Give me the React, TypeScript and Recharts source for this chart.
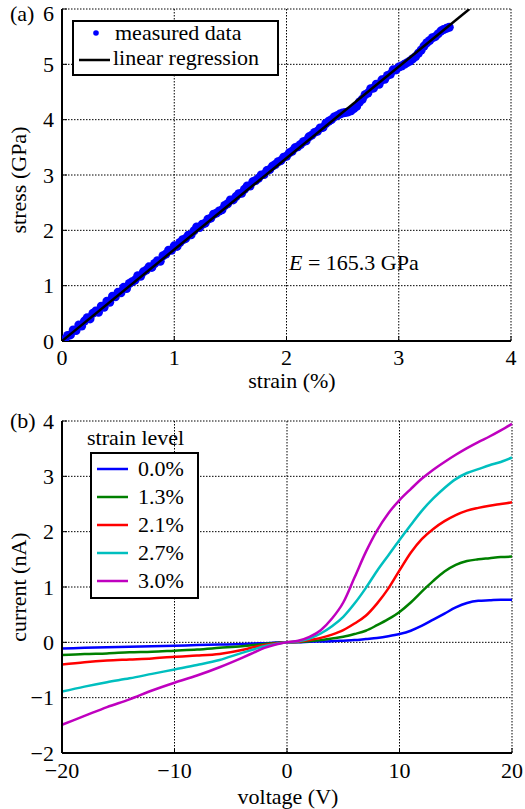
import React from 'react';
import {
  ScatterChart, Scatter, LineChart, Line, XAxis, YAxis, ZAxis, CartesianGrid,
} from 'recharts';

// ---------- panel (a): stress vs strain ----------
const measuredStrain = [
  0, 0.025, 0.05, 0.075, 0.1, 0.125, 0.15, 0.175, 0.2, 0.225,
  0.25, 0.275, 0.3, 0.325, 0.35, 0.375, 0.4, 0.425, 0.45, 0.475,
  0.5, 0.525, 0.55, 0.575, 0.6, 0.625, 0.65, 0.675, 0.7, 0.725,
  0.75, 0.775, 0.8, 0.825, 0.85, 0.875, 0.9, 0.925, 0.95, 0.975,
  1.0, 1.025, 1.05, 1.075, 1.1, 1.125, 1.15, 1.175, 1.2, 1.225,
  1.25, 1.275, 1.3, 1.325, 1.35, 1.375, 1.4, 1.425, 1.45, 1.475,
  1.5, 1.525, 1.55, 1.575, 1.6, 1.625, 1.65, 1.675, 1.7, 1.725,
  1.75, 1.775, 1.8, 1.825, 1.85, 1.875, 1.9, 1.925, 1.95, 1.975,
  2.0, 2.025, 2.05, 2.075, 2.1, 2.125, 2.15, 2.175, 2.2, 2.225,
  2.25, 2.275, 2.3, 2.325, 2.35, 2.375, 2.4, 2.425, 2.45, 2.475,
  2.5, 2.525, 2.55, 2.575, 2.6, 2.625, 2.65, 2.675, 2.7, 2.725,
  2.75, 2.775, 2.8, 2.825, 2.85, 2.875, 2.9, 2.925, 2.95, 2.975,
  3.0, 3.025, 3.05, 3.075, 3.1, 3.125, 3.15, 3.175, 3.2, 3.225,
  3.25, 3.275, 3.3, 3.325, 3.35, 3.375, 3.4, 3.425, 3.45,
];
const measuredStress = [
  0.00, 0.03, 0.10, 0.11, 0.20, 0.19, 0.29, 0.27, 0.36, 0.42,
  0.40, 0.50, 0.54, 0.52, 0.63, 0.61, 0.72, 0.70, 0.81, 0.80,
  0.88, 0.87, 0.97, 0.95, 1.04, 1.07, 1.10, 1.18, 1.17, 1.25,
  1.28, 1.34, 1.33, 1.40, 1.45, 1.44, 1.54, 1.57, 1.64, 1.64,
  1.72, 1.71, 1.78, 1.83, 1.85, 1.91, 1.92, 1.99, 2.06, 2.05,
  2.11, 2.13, 2.20, 2.22, 2.29, 2.31, 2.35, 2.37, 2.45, 2.48,
  2.55, 2.55, 2.61, 2.66, 2.67, 2.74, 2.80, 2.80, 2.88, 2.90,
  2.94, 3.00, 3.01, 3.08, 3.10, 3.16, 3.19, 3.24, 3.26, 3.32,
  3.34, 3.40, 3.43, 3.49, 3.51, 3.55, 3.60, 3.62, 3.69, 3.72,
  3.77, 3.79, 3.85, 3.86, 3.93, 3.97, 4.00, 4.05, 4.07, 4.10,
  4.12, 4.13, 4.14, 4.16, 4.20, 4.24, 4.32, 4.37, 4.45, 4.48,
  4.56, 4.57, 4.64, 4.64, 4.72, 4.73, 4.80, 4.82, 4.90, 4.90,
  4.95, 4.97, 5.00, 5.03, 5.06, 5.10, 5.14, 5.20, 5.26, 5.33,
  5.39, 5.43, 5.48, 5.50, 5.55, 5.60, 5.63, 5.65, 5.67,
];
const regressionStrain = [0, 3.63];
const regressionStress = [0, 6.0];
const strainTicks = [0, 1, 2, 3, 4];
const stressTicks = [0, 1, 2, 3, 4, 5, 6];

// ---------- panel (b): current vs voltage ----------
const voltage = [-20, -18, -16, -14, -12, -10, -8, -6, -4, -3, -2, -1, 0, 1, 2, 3, 4, 5, 6, 7, 8, 9, 10, 11, 12, 13, 14, 15, 16, 17, 18, 19, 20];
const current00 = [-0.11, -0.10, -0.09, -0.08, -0.07, -0.06, -0.05, -0.04, -0.03, -0.02, -0.015, -0.005, 0, 0, 0.01, 0.015, 0.02, 0.03, 0.04, 0.06, 0.08, 0.11, 0.15, 0.21, 0.30, 0.41, 0.52, 0.63, 0.71, 0.75, 0.76, 0.77, 0.77];
const current13 = [-0.23, -0.21, -0.20, -0.18, -0.17, -0.15, -0.13, -0.10, -0.07, -0.05, -0.03, -0.01, 0, 0.005, 0.02, 0.04, 0.07, 0.10, 0.15, 0.21, 0.31, 0.42, 0.55, 0.72, 0.92, 1.11, 1.28, 1.40, 1.47, 1.50, 1.52, 1.54, 1.55];
const current21 = [-0.40, -0.36, -0.33, -0.31, -0.29, -0.26, -0.24, -0.21, -0.14, -0.09, -0.05, -0.02, 0, 0.01, 0.04, 0.08, 0.14, 0.22, 0.34, 0.48, 0.70, 0.97, 1.30, 1.62, 1.87, 2.05, 2.19, 2.30, 2.38, 2.43, 2.47, 2.50, 2.53];
const current27 = [-0.89, -0.80, -0.72, -0.65, -0.57, -0.49, -0.41, -0.32, -0.19, -0.13, -0.07, -0.03, 0, 0.02, 0.07, 0.16, 0.29, 0.46, 0.70, 0.98, 1.29, 1.57, 1.85, 2.12, 2.38, 2.60, 2.79, 2.95, 3.06, 3.13, 3.20, 3.26, 3.34];
const current30 = [-1.49, -1.33, -1.17, -1.03, -0.87, -0.73, -0.60, -0.45, -0.28, -0.19, -0.10, -0.04, 0, 0.03, 0.10, 0.22, 0.43, 0.72, 1.17, 1.63, 2.02, 2.33, 2.57, 2.77, 2.96, 3.12, 3.26, 3.39, 3.51, 3.62, 3.72, 3.83, 3.95];
const strainLevels = ['0.0%', '1.3%', '2.1%', '2.7%', '3.0%'];
const seriesColors = ['#0000ff', '#008000', '#ff0000', '#00bfbf', '#bf00bf'];
const voltageTicks = [-20, -10, 0, 10, 20];
const currentTicks = [-2, -1, 0, 1, 2, 3, 4];

const measured = measuredStrain.map((x, i) => ({ x, y: measuredStress[i] }));
const regression = regressionStrain.map((x, i) => ({ x, y: regressionStress[i] }));
const ivSeries = [current00, current13, current21, current27, current30];
const ivRows = voltage.map((v, i) => {
  const row: Record<string, number> = { v };
  ivSeries.forEach((s, k) => { row['s' + k] = s[i]; });
  return row;
});

const FONT = "'Liberation Serif', 'Times New Roman', 'DejaVu Serif', serif";
const tickStyle = { fontSize: 22, fill: '#000', fontFamily: FONT };
const fmt = (v: number) => (v < 0 ? '\u2212' + Math.abs(v) : String(v));
const noDot = () => <g />;

export default function App() {
  return (
    <div style={{ position: 'absolute', left: 0, top: 0, width: 525, height: 809, background: '#fff', fontFamily: FONT }}>
      <div style={{ position: 'absolute', left: 0, top: 0 }}>
        <ScatterChart width={525} height={400} margin={{ top: 9, right: 14, left: 0, bottom: 0 }}>
          <CartesianGrid stroke="#000" strokeDasharray="1.5 1.5" strokeWidth={1} />
          <XAxis type="number" dataKey="x" domain={[0, 4]} ticks={strainTicks} height={59}
            tick={tickStyle} tickSize={-5} tickMargin={13} tickFormatter={fmt}
            axisLine={{ stroke: '#000', strokeWidth: 2 }} tickLine={{ stroke: '#000' }} allowDataOverflow />
          <XAxis xAxisId="top" orientation="top" type="number" dataKey="x" domain={[0, 4]} ticks={strainTicks}
            height={0} tick={false} tickSize={-5} axisLine={{ stroke: '#000', strokeWidth: 2 }} tickLine={{ stroke: '#000' }} />
          <YAxis type="number" dataKey="y" domain={[0, 6]} ticks={stressTicks} width={62}
            tick={tickStyle} tickSize={-5} tickMargin={13} tickFormatter={fmt}
            axisLine={{ stroke: '#000', strokeWidth: 2 }} tickLine={{ stroke: '#000' }} allowDataOverflow />
          <YAxis yAxisId="right" orientation="right" type="number" dataKey="y" domain={[0, 6]} ticks={stressTicks}
            width={0} tick={false} tickSize={-5} axisLine={{ stroke: '#000', strokeWidth: 2 }} tickLine={{ stroke: '#000' }} />
          <ZAxis range={[38, 38]} />
          <Scatter data={measured} fill="#0000ff" isAnimationActive={false} legendType="none" />
          <Scatter data={regression} line={{ stroke: '#000', strokeWidth: 2.5 }} shape={noDot}
            isAnimationActive={false} legendType="none" />
        </ScatterChart>
      </div>

      <div style={{ position: 'absolute', left: 0, top: 400 }}>
        <LineChart width={525} height={409} data={ivRows} margin={{ top: 21, right: 13, left: 0, bottom: 0 }}>
          <CartesianGrid stroke="#000" strokeDasharray="1.5 1.5" strokeWidth={1} />
          <XAxis type="number" dataKey="v" domain={[-20, 20]} ticks={voltageTicks} height={56}
            tick={tickStyle} tickSize={-5} tickMargin={14} tickFormatter={fmt}
            axisLine={{ stroke: '#000', strokeWidth: 2 }} tickLine={{ stroke: '#000' }} />
          <XAxis xAxisId="top" orientation="top" type="number" dataKey="v" domain={[-20, 20]} ticks={voltageTicks}
            height={0} tick={false} tickSize={-5} axisLine={{ stroke: '#000', strokeWidth: 2 }} tickLine={{ stroke: '#000' }} />
          <YAxis type="number" domain={[-2, 4]} ticks={currentTicks} width={62}
            tick={tickStyle} tickSize={-5} tickMargin={13} tickFormatter={fmt}
            axisLine={{ stroke: '#000', strokeWidth: 2 }} tickLine={{ stroke: '#000' }} />
          <YAxis yAxisId="right" orientation="right" type="number" domain={[-2, 4]} ticks={currentTicks}
            width={0} tick={false} tickSize={-5} axisLine={{ stroke: '#000', strokeWidth: 2 }} tickLine={{ stroke: '#000' }} />
          {seriesColors.map((c, k) => (
            <Line key={k} type="monotone" dataKey={'s' + k} stroke={c} strokeWidth={2.5} dot={false}
              isAnimationActive={false} legendType="none" />
          ))}
        </LineChart>
      </div>

      <svg width={525} height={809} style={{ position: 'absolute', left: 0, top: 0, pointerEvents: 'none', fontFamily: FONT }}
        fontSize={22} fill="#000">
        {/* panel (a) annotations */}
        <text x={10} y={21}>(a)</text>
        <rect x={73} y={21} width={205} height={54} fill="#fff" stroke="#000" strokeWidth={2} />
        <circle cx={96} cy={33} r={2.8} fill="#0000ff" />
        <text x={115} y={39.5}>measured data</text>
        <line x1={79} y1={60} x2={110} y2={60} stroke="#000" strokeWidth={2.5} />
        <text x={113} y={65}>linear regression</text>
        <text x={289} y={270}><tspan fontStyle="italic">E</tspan> = 165.3 GPa</text>
        <text x={292} y={388} textAnchor="middle">strain (%)</text>
        <text transform="translate(26,180) rotate(-90)" textAnchor="middle">stress (GPa)</text>

        {/* panel (b) annotations */}
        <text x={10} y={428}>(b)</text>
        <text x={87} y={445}>strain level</text>
        <rect x={91} y={453} width={107} height={145} fill="#fff" stroke="#000" strokeWidth={2} />
        {strainLevels.map((lab, k) => (
          <g key={lab}>
            <line x1={97} y1={469 + 28 * k} x2={128} y2={469 + 28 * k} stroke={seriesColors[k]} strokeWidth={2.5} />
            <text x={138} y={476 + 28 * k}>{lab}</text>
          </g>
        ))}
        <text x={288} y={804} textAnchor="middle">voltage (V)</text>
        <text transform="translate(26,587) rotate(-90)" textAnchor="middle">current (nA)</text>
      </svg>
    </div>
  );
}
